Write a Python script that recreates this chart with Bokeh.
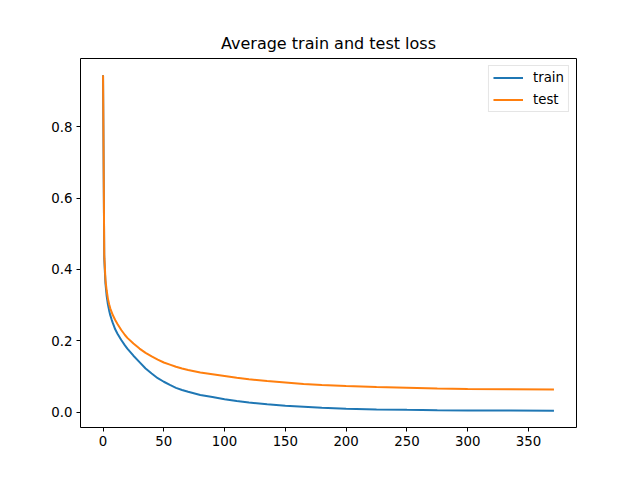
from bokeh.plotting import figure
from bokeh.models import Range1d, FixedTicker, PrintfTickFormatter, Legend, LegendItem
from bokeh.embed import file_html
from bokeh.resources import INLINE

epochs = [0, 1, 2, 3, 4, 5, 6, 7, 8, 10, 12, 15, 18, 20, 25, 30, 35, 40, 45, 50,
          55, 60, 65, 70, 80, 90, 100, 110, 120, 135, 150, 165, 180, 200, 225,
          250, 275, 300, 335, 371]
train_loss = [0.944, 0.43, 0.36, 0.325, 0.302, 0.285, 0.271, 0.26, 0.25, 0.232,
              0.219, 0.202, 0.187, 0.178, 0.158, 0.140, 0.122, 0.108, 0.095, 0.085,
              0.076, 0.068, 0.062, 0.057, 0.048, 0.042, 0.036, 0.031, 0.027, 0.022,
              0.018, 0.015, 0.012, 0.0095, 0.0075, 0.0062, 0.0053, 0.0047, 0.0042, 0.0038]
test_loss = [0.944, 0.44, 0.37, 0.34, 0.318, 0.302, 0.29, 0.281, 0.272, 0.258,
             0.246, 0.230, 0.216, 0.208, 0.192, 0.178, 0.166, 0.156, 0.147, 0.139,
             0.133, 0.127, 0.122, 0.118, 0.111, 0.106, 0.101, 0.096, 0.092, 0.087,
             0.083, 0.079, 0.076, 0.073, 0.070, 0.068, 0.066, 0.065, 0.064, 0.063]
x_ticks = [0, 50, 100, 150, 200, 250, 300, 350]
y_ticks = [0.0, 0.2, 0.4, 0.6, 0.8]
title_text = "Average train and test loss"
series_labels = ["train", "test"]
colors = ["#1f77b4", "#ff7f0e"]

xmin, xmax = min(epochs), max(epochs)
ymin = min(train_loss + test_loss)
ymax = max(train_loss + test_loss)
dx = (xmax - xmin) * 0.05
dy = (ymax - ymin) * 0.05

FONT = "DejaVu Sans"

p = figure(width=640, height=480, output_backend="svg", toolbar_location=None,
           x_range=Range1d(xmin - dx, xmax + dx), y_range=Range1d(ymin - dy, ymax + dy),
           min_border_left=80, min_border_right=64, min_border_top=58, min_border_bottom=53)

p.title.text = title_text
p.title.align = "center"
p.title.text_font = FONT
p.title.text_font_size = "16px"
p.title.text_font_style = "normal"
p.title.text_color = "black"
p.title.standoff = 12

p.xgrid.visible = False
p.ygrid.visible = False
p.outline_line_color = "black"
p.outline_line_width = 1
p.background_fill_color = "white"
p.border_fill_color = "white"

for ax in (p.xaxis[0], p.yaxis[0]):
    ax.axis_line_color = None
    ax.major_tick_in = 0
    ax.major_tick_out = 4
    ax.major_tick_line_color = "black"
    ax.minor_tick_line_color = None
    ax.major_label_text_font = FONT
    ax.major_label_text_font_size = "13.33px"
    ax.major_label_text_color = "black"
    ax.major_label_standoff = 4

p.xaxis[0].ticker = FixedTicker(ticks=x_ticks)
p.yaxis[0].ticker = FixedTicker(ticks=y_ticks)
p.yaxis[0].formatter = PrintfTickFormatter(format="%.1f")

r1 = p.line(epochs, train_loss, line_color=colors[0], line_width=2)
r2 = p.line(epochs, test_loss, line_color=colors[1], line_width=2)

legend = Legend(items=[LegendItem(label=series_labels[0], renderers=[r1]),
                       LegendItem(label=series_labels[1], renderers=[r2])],
                location="top_right", margin=7, padding=4, spacing=7,
                glyph_width=30, glyph_height=15, label_height=15, label_standoff=10,
                label_text_font=FONT, label_text_font_size="13.33px",
                label_text_color="black",
                border_line_color="#cccccc", border_line_width=1,
                background_fill_alpha=0.8)
p.add_layout(legend)

open("out.html", "w").write(file_html(p, INLINE))
